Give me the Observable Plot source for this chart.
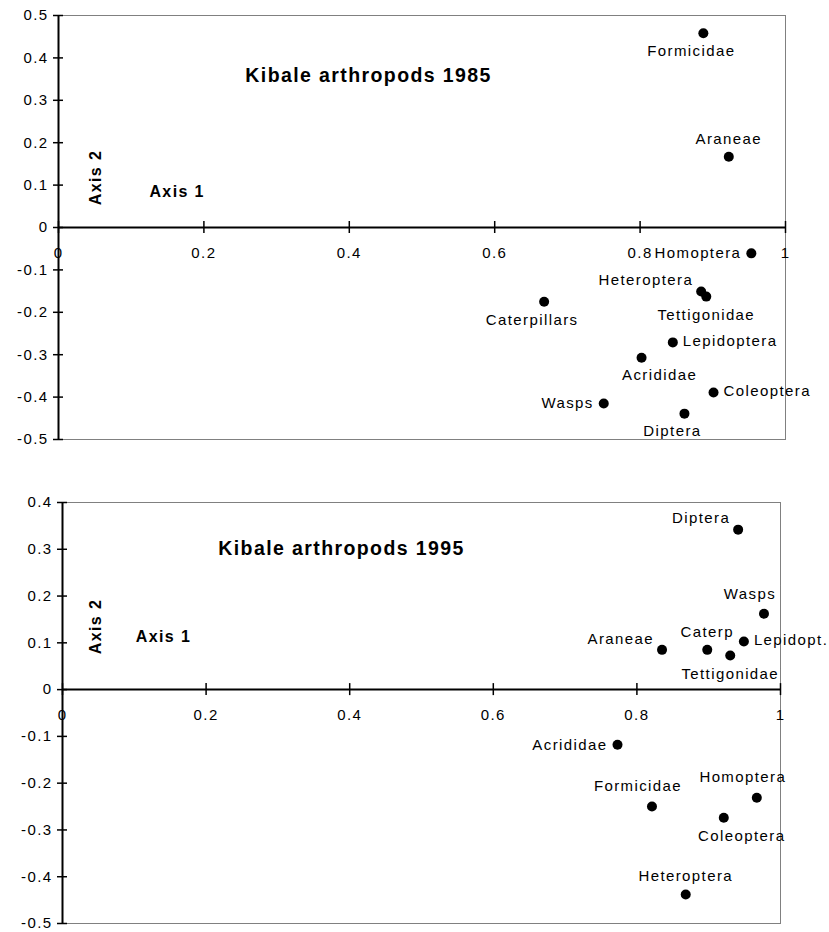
<!DOCTYPE html>
<html><head><meta charset="utf-8">
<script src="https://cdn.jsdelivr.net/npm/d3@7"></script>
<script src="https://cdn.jsdelivr.net/npm/@observablehq/plot@0.6"></script>
<style>body{margin:0;background:#fff} svg{display:block}</style>
</head><body><div id="chart"></div>
<script>
// ---- data ----
const taxa1985 = ["Formicidae","Araneae","Homoptera","Heteroptera","Tettigonidae","Caterpillars","Lepidoptera","Acrididae","Coleoptera","Wasps","Diptera"];
const axis1_1985 = [0.887,0.922,0.953,0.884,0.891,0.668,0.845,0.802,0.901,0.750,0.861];
const axis2_1985 = [0.458,0.167,-0.061,-0.151,-0.163,-0.175,-0.271,-0.307,-0.389,-0.415,-0.439];
const labelSide1985 = ["SW","N","W","WNW","S","SW","E","SE","E","W","SW"];

const taxa1995 = ["Diptera","Wasps","Lepidopt.","Caterp","Araneae","Tettigonidae","Acrididae","Formicidae","Homoptera","Coleoptera","Heteroptera"];
const axis1_1995 = [0.941,0.977,0.949,0.898,0.835,0.930,0.773,0.821,0.967,0.921,0.868];
const axis2_1995 = [0.342,0.162,0.103,0.085,0.085,0.073,-0.118,-0.250,-0.231,-0.274,-0.438];
const labelSide1995 = ["WNW","NW","E","N","WNW","S","W","NW","NW","SE","N"];

const xTicks = [0,0.2,0.4,0.6,0.8,1];
const yTicks1985 = [0.5,0.4,0.3,0.2,0.1,0,-0.1,-0.2,-0.3,-0.4,-0.5];
const yTicks1995 = [0.4,0.3,0.2,0.1,0,-0.1,-0.2,-0.3,-0.4,-0.5];
const titles = ["Kibale arthropods 1985","Kibale arthropods 1995"];
const axisNames = ["Axis 1","Axis 2"];

// ---- layout ----
const FONT = "Liberation Sans, Arial, sans-serif";
const placements = {
  N:   {textAnchor:"middle", dx:0,   dy:-18},
  NW:  {textAnchor:"middle", dx:-14, dy:-20},
  S:   {textAnchor:"middle", dx:0,   dy:19},
  SW:  {textAnchor:"middle", dx:-12, dy:18},
  SE:  {textAnchor:"middle", dx:18,  dy:18},
  E:   {textAnchor:"start",  dx:10,  dy:-1},
  W:   {textAnchor:"end",    dx:-10, dy:0},
  WNW: {textAnchor:"end",    dx:-8,  dy:-11}
};
const fmt = d => String(d);

function panel({taxa, ax1, ax2, sides, yTicks, title, height, margins, ann}) {
  const rows = taxa.map((t, i) => ({taxon: t, x: ax1[i], y: ax2[i], side: sides[i]}));
  const labelMarks = Object.entries(placements).map(([k, p]) =>
    Plot.text(rows.filter(r => r.side === k), {x: "x", y: "y", text: "taxon",
      textAnchor: p.textAnchor, dx: p.dx, dy: p.dy, lineAnchor: "middle",
      fill: "black", fontSize: 15}));
  return Plot.plot({
    width: 829, height,
    marginLeft: margins[0], marginRight: margins[1], marginTop: margins[2], marginBottom: margins[3],
    style: {fontFamily: FONT, background: "white", overflow: "visible", color: "black", letterSpacing: "1.4px"},
    x: {domain: [0, 1], axis: null},
    y: {domain: [yTicks[yTicks.length - 1], yTicks[0]], axis: null},
    marks: [
      Plot.frame({stroke: "black", strokeDasharray: "1,1", strokeWidth: 1}),
      Plot.ruleX([0], {stroke: "black", strokeWidth: 2}),
      Plot.ruleY([0], {stroke: "black", strokeWidth: 2}),
      Plot.ruleY(yTicks, {y: d => d, x1: 0, x2: 0, insetLeft: -5, insetRight: -5, stroke: "black", strokeWidth: 1.5}),
      Plot.ruleX(xTicks, {x: d => d, y1: 0, y2: 0, insetTop: -6, insetBottom: -6, stroke: "black", strokeWidth: 1.5}),
      Plot.text(yTicks, {y: d => d, text: fmt, frameAnchor: "left", dx: -10, textAnchor: "end",
        lineAnchor: "middle", fontSize: 15, fill: "black"}),
      Plot.text(xTicks, {x: d => d, y: 0, text: fmt, dy: 26, textAnchor: "middle",
        lineAnchor: "middle", fontSize: 15, fill: "black"}),
      Plot.dot(rows, {x: "x", y: "y", r: 5, fill: "black", stroke: "none"}),
      ...labelMarks,
      Plot.text([title], {x: ann.title[0], y: ann.title[1], text: d => d, textAnchor: "start", lineAnchor: "middle",
        fontSize: 19.5, fontWeight: "bold", fill: "black"}),
      Plot.text([axisNames[0]], {x: ann.axis1[0], y: ann.axis1[1], text: d => d, textAnchor: "start", lineAnchor: "middle",
        fontSize: 16, fontWeight: "bold", fill: "black"}),
      Plot.text([axisNames[1]], {x: ann.axis2[0], y: ann.axis2[1], text: d => d, rotate: -90, textAnchor: "middle", lineAnchor: "middle",
        fontSize: 16, fontWeight: "bold", fill: "black"})
    ]
  });
}

const root = document.getElementById("chart");
root.append(panel({taxa: taxa1985, ax1: axis1_1985, ax2: axis2_1985, sides: labelSide1985, yTicks: yTicks1985,
  title: titles[0], height: 458, margins: [58, 44, 15, 19],
  ann: {title: [0.257, 0.358], axis1: [0.125, 0.085], axis2: [0.052, 0.118]}}));
root.append(panel({taxa: taxa1995, ax1: axis1_1995, ax2: axis2_1995, sides: labelSide1995, yTicks: yTicks1995,
  title: titles[1], height: 474, margins: [62, 49, 44, 9],
  ann: {title: [0.217, 0.301], axis1: [0.102, 0.113], axis2: [0.047, 0.135]}}));
</script>
</body></html>
